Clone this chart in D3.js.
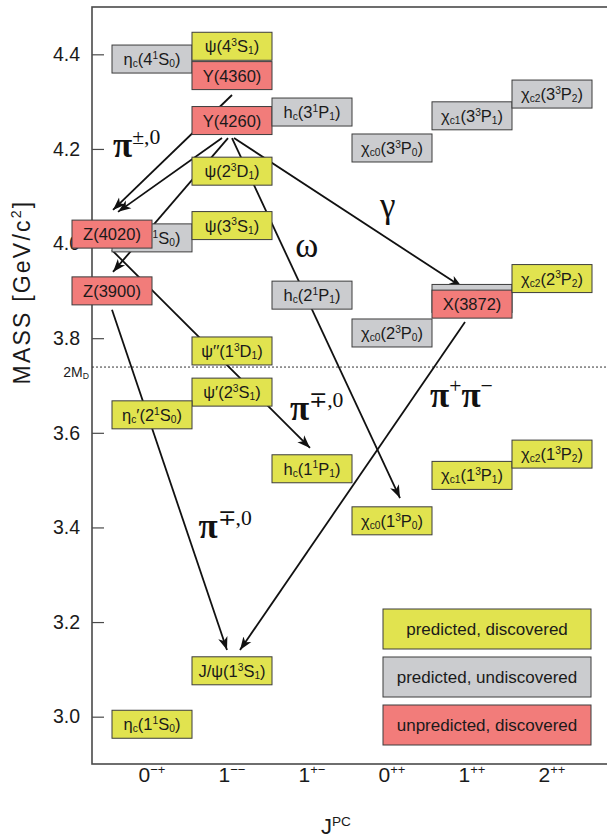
<!DOCTYPE html>
<html>
<head>
<meta charset="utf-8">
<script src="https://cdn.jsdelivr.net/npm/d3@7"></script>
<style>
  body { margin: 0; background: #fff; }
  svg text { font-family: "Liberation Sans", Arial, sans-serif; fill: #1a1a1a; }
  .greek { font-family: "Liberation Serif", "Times New Roman", serif; fill: #111; }
</style>
</head>
<body>
<div id="chart"></div>
<script>
// J^PC columns and axis ticks
var jpc = ["0-+", "1--", "1+-", "0++", "1++", "2++"];
var jpcLabels = ["0^{−+}", "1^{−−}", "1^{+−}", "0^{++}", "1^{++}", "2^{++}"];
var massTicks = [3.0, 3.2, 3.4, 3.6, 3.8, 4.0, 4.2, 4.4];
var openCharm = 3.739; // 2 M_D threshold

// charmonium states (drawing order = array order)
var stateNames = [
  "η_{c}(4^{1}S_{0})", "ψ(4^{3}S_{1})", "Y(4360)", "Y(4260)", "h_{c}(3^{1}P_{1})",
  "χ_{c0}(3^{3}P_{0})", "χ_{c1}(3^{3}P_{1})", "χ_{c2}(3^{3}P_{2})", "ψ(2^{3}D_{1})",
  "η_{c}(3^{1}S_{0})", "ψ(3^{3}S_{1})", "Z(4020)", "Z(3900)", "h_{c}(2^{1}P_{1})",
  "χ_{c1}(2^{3}P_{1})", "X(3872)", "χ_{c2}(2^{3}P_{2})", "χ_{c0}(2^{3}P_{0})",
  "ψ′′(1^{3}D_{1})", "ψ′(2^{3}S_{1})", "η_{c}′(2^{1}S_{0})", "h_{c}(1^{1}P_{1})",
  "χ_{c0}(1^{3}P_{0})", "χ_{c1}(1^{3}P_{1})", "χ_{c2}(1^{3}P_{2})", "J/ψ(1^{3}S_{1})",
  "η_{c}(1^{1}S_{0})"
];
var stateJpc = [
  "0-+", "1--", "1--", "1--", "1+-",
  "0++", "1++", "2++", "1--",
  "0-+", "1--", "0-+", "0-+", "1+-",
  "1++", "1++", "2++", "0++",
  "1--", "1--", "0-+", "1+-",
  "0++", "1++", "2++", "1--",
  "0-+"
];
var stateMass = [
  4.390, 4.417, 4.355, 4.260, 4.278,
  4.202, 4.270, 4.316, 4.153,
  4.012, 4.038, 4.020, 3.900, 3.891,
  3.884, 3.872, 3.926, 3.811,
  3.773, 3.686, 3.638, 3.524,
  3.414, 3.510, 3.555, 3.097,
  2.984
];
// pd = predicted, discovered; pu = predicted, undiscovered; ud = unpredicted, discovered
var stateType = [
  "pu", "pd", "ud", "ud", "pu",
  "pu", "pu", "pu", "pd",
  "pu", "pd", "ud", "ud", "pu",
  "pu", "ud", "pd", "pu",
  "pd", "pd", "pd", "pd",
  "pd", "pd", "pd", "pd",
  "pd"
];
// Z states sit between columns
var stateColShift = [
  0, 0, 0, 0, 0,
  0, 0, 0, 0,
  0, 0, -0.5, -0.5, 0,
  0, 0, 0, 0,
  0, 0, 0, 0,
  0, 0, 0, 0,
  0
];

// transitions: [column, mass] -> [column, mass]
var arrowFrom = [[1.0, 4.314], [0.875, 4.223], [0.95, 4.223], [-0.5, 3.986],
                 [1.0, 4.223], [1.025, 4.223], [-0.5, 3.860], [3.9125, 3.834]];
var arrowTo   = [[-0.4875, 4.071], [-0.425, 4.067], [-0.4875, 3.940], [1.975, 3.568],
                 [3.1, 3.462], [3.875, 3.908], [0.9375, 3.141], [1.1, 3.141]];

// emitted particle labels
var decayText = ["π^{±,0}", "ω", "γ", "π^{∓,0}", "π^{+}π^{−}", "π^{∓,0}"];
var decayCol  = [-0.4875, 1.79, 2.85, 1.725, 3.475, 0.58];
var decayMass = [4.183, 3.972, 4.056, 3.627, 3.655, 3.378];

var legendText = ["predicted, discovered", "predicted, undiscovered", "unpredicted, discovered"];
var legendType = ["pd", "pu", "ud"];

var fillOf = { pd: "#e1e34f", pu: "#cbcccf", ud: "#f27c7a" };

var W = 607, H = 838;
var plotLeft = 92, plotTop = 7, plotBottom = 764, plotRight = 650;

var svg = d3.select("#chart").append("svg")
    .attr("width", W)
    .attr("height", H);

var x = d3.scaleBand().domain(jpc).range([112, 592]).padding(0);
var bw = x.bandwidth();
var xc = d3.scaleLinear().domain([0, 5]).range([x(jpc[0]) + bw / 2, x(jpc[5]) + bw / 2]);
var y = d3.scaleLinear().domain([2.9, 4.5]).range([plotBottom, plotTop]);

// writes "a^{sup}b_{sub}" style markup into a text element as tspans
function markup(sel, str, size, baseWeight) {
  var re = /\^\{([^}]*)\}|_\{([^}]*)\}|([^\^_]+)/g, m, cur = 0;
  while ((m = re.exec(str)) !== null) {
    var txt, fs, shift, base = false;
    if (m[1] !== undefined) { txt = m[1]; fs = size * 0.62; shift = -size * 0.38; }
    else if (m[2] !== undefined) { txt = m[2]; fs = size * 0.62; shift = size * 0.12; }
    else { txt = m[3]; fs = size; shift = 0; base = true; }
    var ts = sel.append("tspan")
      .attr("dy", shift - cur)
      .style("font-size", fs + "px")
      .text(txt);
    if (base && baseWeight) ts.style("font-weight", baseWeight);
    cur = shift;
  }
}

// frame (right side runs off the picture)
svg.append("rect")
  .attr("x", plotLeft).attr("y", plotTop)
  .attr("width", plotRight - plotLeft).attr("height", plotBottom - plotTop)
  .attr("fill", "none")
  .attr("stroke", "#4a4a4a")
  .attr("stroke-width", 1.6);

// y axis
var yAxis = svg.append("g")
  .attr("transform", "translate(" + plotLeft + ",0)")
  .call(d3.axisLeft(y).tickValues(massTicks).tickSize(-12).tickPadding(12).tickFormat(d3.format(".1f")));
yAxis.select(".domain").remove();
yAxis.selectAll("line").attr("stroke", "#4a4a4a").attr("stroke-width", 1.2);
yAxis.selectAll("text").style("font-size", "19.5px").style("font-family", "Liberation Sans, Arial, sans-serif").attr("fill", "#1a1a1a");

// x axis labels
var xAxis = svg.append("g")
  .attr("transform", "translate(0," + plotBottom + ")")
  .call(d3.axisBottom(x).tickSize(0).tickPadding(18));
xAxis.select(".domain").remove();
xAxis.selectAll("text")
  .attr("fill", "#1a1a1a")
  .style("font-family", "Liberation Sans, Arial, sans-serif")
  .text(null)
  .each(function (d, i) { markup(d3.select(this), jpcLabels[i], 21); });

// axis titles
var yTitle = svg.append("text")
  .attr("transform", "translate(30," + 292 + ") rotate(-90)")
  .attr("text-anchor", "middle")
  .style("font-size", "23px")
  .style("letter-spacing", "2.2px");
markup(yTitle, "MASS  [GeV/c^{2}]", 23);

var xTitle = svg.append("text")
  .attr("x", (plotLeft + 592) / 2 - 6)
  .attr("y", 834)
  .attr("text-anchor", "middle");
markup(xTitle, "J^{PC}", 22);

// 2 M_D threshold
svg.append("line")
  .attr("x1", plotLeft).attr("x2", W)
  .attr("y1", y(openCharm)).attr("y2", y(openCharm))
  .attr("stroke", "#333")
  .attr("stroke-width", 1)
  .attr("stroke-dasharray", "2,2");
var mdLabel = svg.append("text")
  .attr("x", plotLeft - 3)
  .attr("y", y(openCharm) + 10)
  .attr("text-anchor", "end");
markup(mdLabel, "2M_{D}", 14);

// arrows
svg.append("defs").append("marker")
  .attr("id", "head")
  .attr("markerUnits", "userSpaceOnUse")
  .attr("viewBox", "-13 -6 14 12")
  .attr("refX", 0).attr("refY", 0)
  .attr("markerWidth", 14).attr("markerHeight", 12)
  .attr("orient", "auto")
  .append("path")
  .attr("d", "M0,0 L-13,-4.8 L-9.5,0 L-13,4.8 Z")
  .attr("fill", "#111");

svg.append("g").selectAll("line")
  .data(arrowFrom)
  .enter()
  .append("line")
  .attr("x1", function (d) { return xc(d[0]); })
  .attr("y1", function (d) { return y(d[1]); })
  .attr("x2", function (d, i) { return xc(arrowTo[i][0]); })
  .attr("y2", function (d, i) { return y(arrowTo[i][1]); })
  .attr("stroke", "#111")
  .attr("stroke-width", 1.8)
  .attr("marker-end", "url(#head)");

// particle labels (pions drawn heavier, like the original)
decayText.forEach(function (t, i) {
  var lab = svg.append("text")
    .attr("class", "greek")
    .attr("x", xc(decayCol[i]))
    .attr("y", y(decayMass[i]));
  markup(lab, t, 35, /π/.test(t) ? "bold" : null);
});

// state boxes
var boxH = 28;
var states = svg.append("g").selectAll("g")
  .data(stateNames)
  .enter()
  .append("g")
  .attr("transform", function (d, i) {
    return "translate(" + (x(stateJpc[i]) + stateColShift[i] * bw) + "," + (y(stateMass[i]) - boxH / 2) + ")";
  });

states.append("rect")
  .attr("width", bw)
  .attr("height", boxH)
  .attr("fill", function (d, i) { return fillOf[stateType[i]]; })
  .attr("stroke", "#3c3c3c")
  .attr("stroke-width", 1);

states.append("text")
  .attr("x", bw / 2)
  .attr("y", boxH / 2 + 6)
  .attr("text-anchor", "middle")
  .each(function (d) { markup(d3.select(this), d, 16.5); });

// legend
var legend = svg.append("g").selectAll("g")
  .data(legendText)
  .enter()
  .append("g")
  .attr("transform", function (d, i) { return "translate(383," + (609 + i * 48) + ")"; });

legend.append("rect")
  .attr("width", 208)
  .attr("height", 40)
  .attr("fill", function (d, i) { return fillOf[legendType[i]]; })
  .attr("stroke", "#3c3c3c")
  .attr("stroke-width", 1);

legend.append("text")
  .attr("x", 104)
  .attr("y", 26)
  .attr("text-anchor", "middle")
  .style("font-size", "17px")
  .text(function (d) { return d; });
</script>
</body>
</html>
